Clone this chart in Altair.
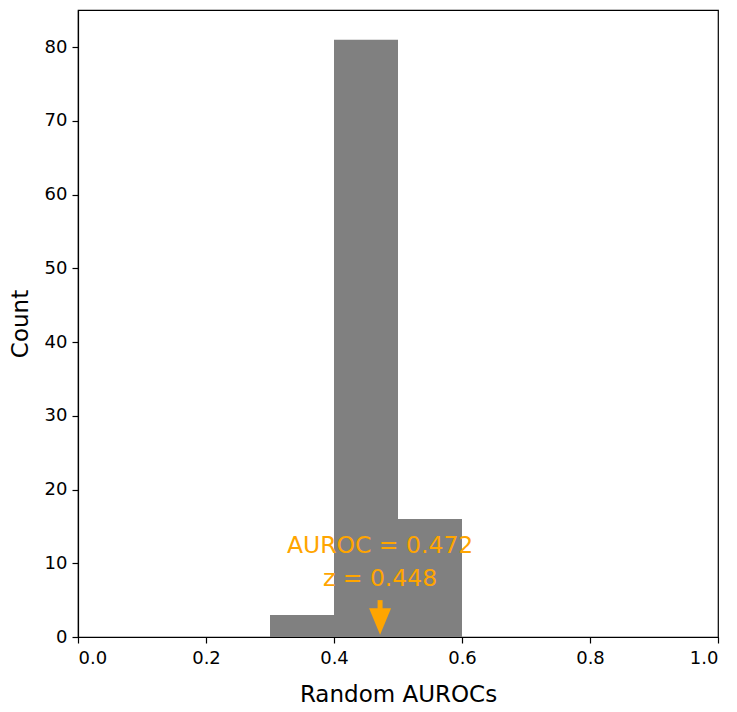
import altair as alt
import pandas as pd

bin_start = [0.3, 0.4, 0.5]
bin_end = [0.4, 0.5, 0.6]
counts = [3, 81, 16]

auroc = 0.472
zscore = 0.448
label_lines = ["AUROC = 0.472", "z = 0.448"]
label_y = [12.4, 7.9]

hist = pd.DataFrame({"start": bin_start, "end": bin_end, "count": counts, "base": [0, 0, 0]})
txt = pd.DataFrame({"x": [auroc, auroc], "y": label_y, "t": label_lines})
arrow = pd.DataFrame({"x": [auroc], "y": [5.0], "y2": [3.0], "yh": [2.1]})

xs = alt.Scale(domain=[0, 1], nice=False, padding=0, zero=False)
ys = alt.Scale(domain=[0, 85.05], nice=False, padding=0)

bars = alt.Chart(hist).mark_bar(color="#808080", binSpacing=0, strokeWidth=0).encode(
    x=alt.X("start:Q", scale=xs, title="Random AUROCs",
            axis=alt.Axis(values=[0, 0.2, 0.4, 0.6, 0.8, 1.0], format=".1f")),
    x2="end:Q",
    y=alt.Y("count:Q", scale=ys, title="Count",
            axis=alt.Axis(values=[0, 10, 20, 30, 40, 50, 60, 70, 80])),
    y2="base:Q",
)

texts = alt.Chart(txt).mark_text(color="#FFA500", fontSize=23.5, font="DejaVu Sans",
                                 align="center", baseline="middle").encode(
    x=alt.X("x:Q", scale=xs), y=alt.Y("y:Q", scale=ys), text="t:N")

shaft = alt.Chart(arrow).mark_rule(color="#FFA500", strokeWidth=5).encode(
    x=alt.X("x:Q", scale=xs), y=alt.Y("y:Q", scale=ys), y2="y2:Q")

head = alt.Chart(arrow).mark_point(shape="M-1,-1.2L1,-1.2L0,1.2Z", filled=True, color="#FFA500",
                                   size=484, opacity=1, strokeWidth=0).encode(
    x=alt.X("x:Q", scale=xs), y=alt.Y("yh:Q", scale=ys))

chart = alt.layer(bars, texts, shaft, head).properties(
    width=640, height=627,
    autosize=alt.AutoSizeParams(type="none"),
    padding={"left": 70, "top": 2, "right": 10, "bottom": 70},
).configure_view(stroke="black", strokeWidth=1.2).configure_axis(
    domainColor="black", tickColor="black", labelColor="black", titleColor="black",
    grid=False, labelFont="DejaVu Sans", titleFont="DejaVu Sans",
    labelFontSize=18, titleFontSize=23, titleFontWeight="normal",
    tickSize=6, domainWidth=1.2, tickWidth=1.2,
).configure_axisX(labelPadding=6, titlePadding=16).configure_axisY(labelPadding=5, titlePadding=12)

chart.save("out.html", embed_options={"renderer": "svg", "actions": False})
